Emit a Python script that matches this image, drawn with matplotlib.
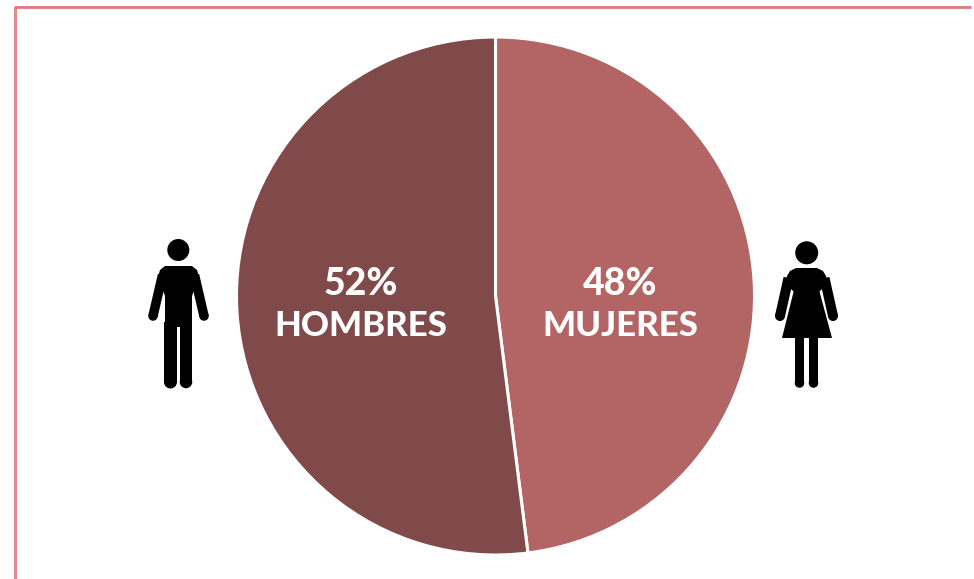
import matplotlib
matplotlib.use("Agg")
import matplotlib.pyplot as plt
from matplotlib.patches import Circle, Polygon, Rectangle

W, H = 974, 579

categories = ["MUJERES", "HOMBRES"]
values = [48, 52]
colors = ["#b36464", "#804a4a"]

plt.rcParams["font.family"] = ["Lato", "DejaVu Sans"]

fig = plt.figure(figsize=(W / 100, H / 100), dpi=100, facecolor="white")

# overlay in pixel coordinates for the frame and the two icons
bg = fig.add_axes([0, 0, 1, 1])
bg.set_xlim(0, W)
bg.set_ylim(H, 0)
bg.axis("off")

bg.plot([14.7, 14.7], [H, 7], color="#e58b8b", lw=2.2, solid_capstyle="butt")
bg.plot([13.5, 971], [7.3, 7.3], color="#de7a7a", lw=2.0, solid_capstyle="butt")


def limb(x0, y0, x1, y1, w):
    # rounded bar standing for an arm or a leg
    dx, dy = x1 - x0, y1 - y0
    ln = (dx**2 + dy**2) ** 0.5
    nx, ny = -dy / ln * w / 2, dx / ln * w / 2
    bg.add_patch(Polygon([(x0 + nx, y0 + ny), (x1 + nx, y1 + ny), (x1 - nx, y1 - ny), (x0 - nx, y0 - ny)], color="black", lw=0))
    bg.add_patch(Circle((x1, y1), w / 2, color="black", lw=0))


# man
bg.add_patch(Circle((178.3, 250), 11, color="black", lw=0))
bg.add_patch(Polygon([(158, 277), (160, 270), (165, 266), (192, 266), (197, 270), (199, 277),
                      (192, 296), (165, 296)], color="black", lw=0))
bg.add_patch(Rectangle((164.5, 285), 27.5, 42, color="black", lw=0))
limb(162.5, 275, 153, 316, 9.5)
limb(194.5, 275, 204, 316, 9.5)
limb(170.5, 322, 170.5, 382, 13)
limb(186, 322, 186, 382, 12.5)

# woman
bg.add_patch(Circle((806.7, 252.8), 11.5, color="black", lw=0))
bg.add_patch(Polygon([(785, 283), (787, 276), (790, 271), (796, 268), (817, 268), (823, 271), (826, 276), (828, 283),
                      (819, 292), (794, 292)], color="black", lw=0))
bg.add_patch(Polygon([(795, 286), (818, 286), (832, 338), (782, 338)], color="black", lw=0))
limb(788.5, 278, 780, 316, 10)
limb(824.5, 278, 833, 316, 10)
limb(799.5, 335, 799.5, 383, 9.5)
limb(813.5, 335, 813.5, 383, 9.5)

# pie, centre (495.5, 296) radius 258 px
R = 259
ax = fig.add_axes([(495.5 - R) / W, 1 - (296 + R) / H, 2 * R / W, 2 * R / H])
ax.pie(values, colors=colors, startangle=90, counterclock=False, radius=1,
       wedgeprops={"edgecolor": "white", "linewidth": 2.2})
ax.set_xlim(-1, 1)
ax.set_ylim(-1, 1)

# labels
text_style = {"color": "white", "fontweight": "black", "ha": "center", "va": "center"}
label_x = [620, 361]
lab = fig.add_axes([0, 0, 1, 1], facecolor="none")
lab.set_xlim(0, W)
lab.set_ylim(H, 0)
lab.axis("off")
for x, name, v in zip(label_x, categories, values):
    lab.text(x, 284, f"{v}%", fontsize=27, **text_style)
    lab.text(x, 326, name, fontsize=25, **text_style)

fig.savefig("out.png", dpi=100, facecolor="white")
